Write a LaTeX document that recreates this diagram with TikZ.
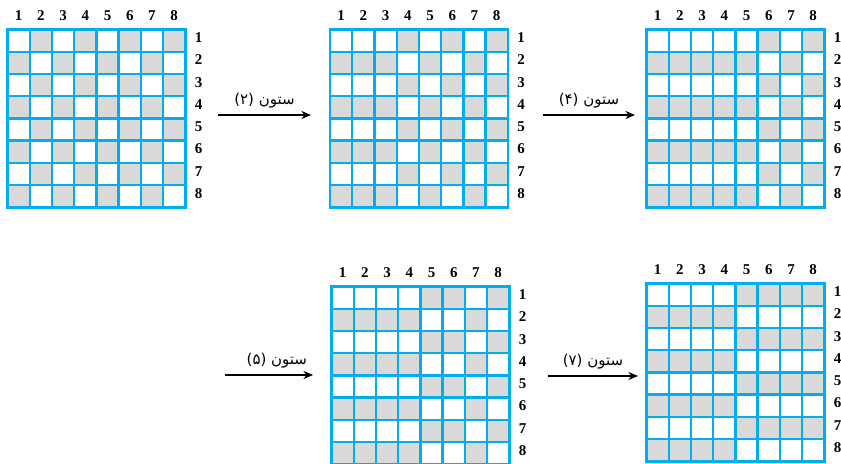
\documentclass[tikz,border=0pt]{standalone}
\usepackage{fontspec}
\setmainfont{Liberation Serif}
\newfontfamily\arabicfont[Script=Arabic]{DejaVu Sans}
\TeXXeTstate=1
\usetikzlibrary{arrows.meta}
\definecolor{gridBlue}{HTML}{00AEEF}
\definecolor{cellGray}{HTML}{D9D9D9}
\tikzset{
    gline/.style={draw=gridBlue, line width=1.8pt, line cap=rect},
    gcell/.style={fill=cellGray},
    numlabel/.style={font=\fontsize{11.5}{13}\selectfont\bfseries, inner sep=0pt, text height=1.45ex, text depth=0pt},
    flipline/.style={-{Stealth[length=2.6mm, width=2.2mm]}, line width=0.9pt},
    fliplabel/.style={font=\arabicfont\fontsize{11.5}{13}\selectfont, inner sep=2pt}
}
% #1 name, #2,#3 top-left corner, #4 column/parity pairs
\newcommand{\board}[4]{%
    \begin{scope}[shift={(#2,#3)}, x=0.6cm, y=-0.6cm]
        \foreach \c/\p in {#4}{
            \foreach \r in {1,...,8}{
                \pgfmathtruncatemacro{\g}{mod(\r+\p,2)}
                \ifnum\g=1 \fill[gcell] (\c-1,\r-1) rectangle (\c,\r);\fi
            }
            \node[numlabel] (#1c\c) at (\c-0.5,-0.6) {\c};
        }
        \foreach \r in {1,...,8}
            \node[numlabel] (#1r\r) at (8.6,\r-0.6) {\r};
        \foreach \i in {0,...,8}{
            \draw[gline] (\i,0) -- (\i,8);
            \draw[gline] (0,\i) -- (8,\i);
        }
    \end{scope}
}

\begin{document}
\begin{tikzpicture}[x=0.027cm, y=-0.027cm]
    \useasboundingbox (0,0) rectangle (841,463);
    \board{ba}{7.5}{29.5}{1/1,2/0,3/1,4/0,5/1,6/0,7/1,8/0}
    \board{bb}{330}{29.5}{1/1,2/1,3/1,4/0,5/1,6/0,7/1,8/0}
    \board{bc}{646.5}{29.5}{1/1,2/1,3/1,4/1,5/1,6/0,7/1,8/0}
    \board{bd}{331.5}{286.5}{1/1,2/1,3/1,4/1,5/0,6/0,7/1,8/0}
    \board{be}{646.5}{283.5}{1/1,2/1,3/1,4/1,5/0,6/0,7/0,8/0}

    % arrows between the boards
    \coordinate (fa1) at (218,115);
    \coordinate (fa2) at (311,115);
    \coordinate (fb1) at (543,115);
    \coordinate (fb2) at (635,115);
    \coordinate (fc1) at (225,375);
    \coordinate (fc2) at (313,375);
    \coordinate (fd1) at (548,376);
    \coordinate (fd2) at (638,376);
    \draw[flipline] (fa1) -- node[fliplabel, above=3pt] (ta) {\beginR ستون \beginL(۲)\endL\endR} (fa2);
    \draw[flipline] (fb1) -- node[fliplabel, above=3pt] (tb) {\beginR ستون \beginL(۴)\endL\endR} (fb2);
    \draw[flipline] (fc1) -- node[fliplabel, above=3pt, xshift=6pt] (tc) {\beginR ستون \beginL(۵)\endL\endR} (fc2);
    \draw[flipline] (fd1) -- node[fliplabel, above=3pt] (td) {\beginR ستون \beginL(۷)\endL\endR} (fd2);
\end{tikzpicture}
\end{document}
